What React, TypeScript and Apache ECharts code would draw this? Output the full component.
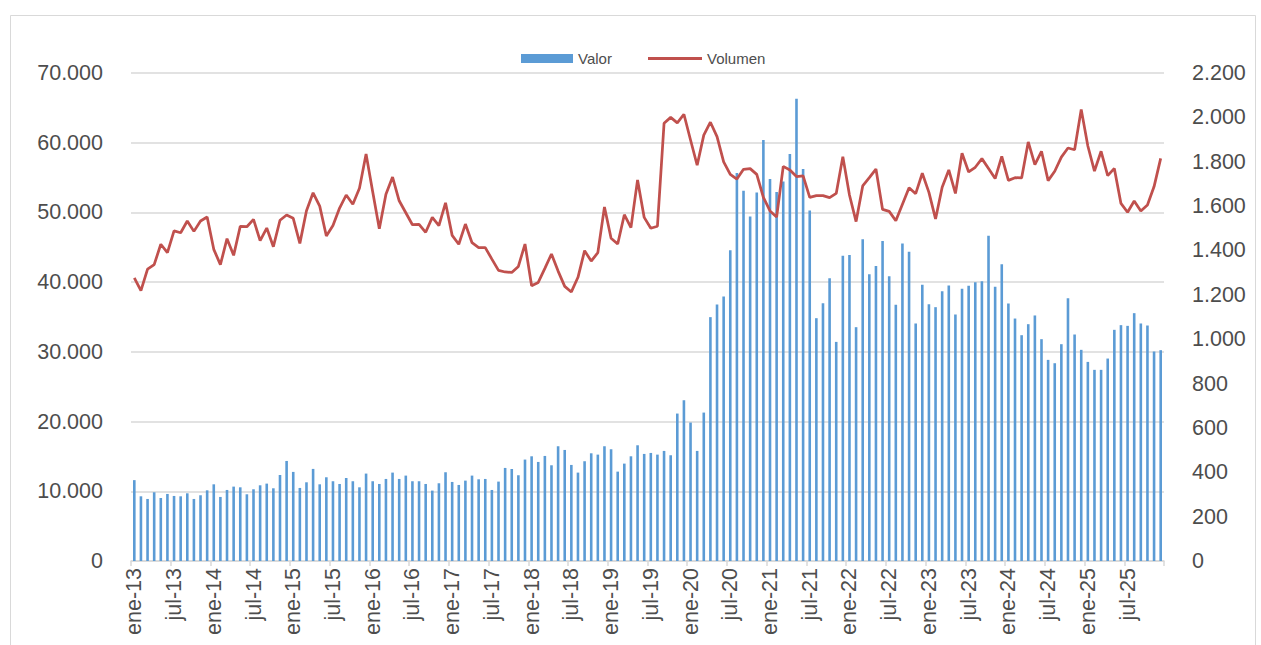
import React, { useEffect, useRef } from "react";
import * as echarts from "echarts";

const MONTHS = ["ene", "feb", "mar", "abr", "may", "jun", "jul", "ago", "sep", "oct", "nov", "dic"];
const YEARS = [13, 14, 15, 16, 17, 18, 19, 20, 21, 22, 23, 24, 25];
const categories: string[] = [];
YEARS.forEach((y) => MONTHS.forEach((m) => categories.push(`${m}-${y}`)));

const valor = [
  11600, 9280, 8900, 9860, 9040, 9620, 9330, 9280, 9710, 8900, 9430, 10140,
  11000, 9190, 10190, 10670, 10570, 9570, 10290, 10860, 11100, 10430, 12340, 14350,
  12780, 10480, 11290, 13210, 11000, 12010, 11440, 11050, 11910, 11440, 10570, 12540,
  11440, 11050, 11770, 12680, 11770, 12250, 11440, 11440, 11050, 10100, 11150, 12730,
  11340, 10910, 11530, 12250, 11720, 11770, 10190, 11390, 13350, 13210, 12300, 14550,
  15020, 14210, 15070, 13730, 16460, 15930, 13780, 12680, 14310, 15450, 15260, 16460,
  16030, 12820, 13970, 15020, 16600, 15360, 15500, 15260, 15790, 15170, 21150, 23060,
  19860, 15790, 21290, 34980, 36790, 37940, 44590, 55650, 53110, 49430, 52870, 60380,
  54780, 52920, 54450, 58370, 66320, 56220, 50290, 34830, 36990, 40570, 31430, 43780,
  43880, 33540, 46170, 41150, 42300, 45890, 40860, 36750, 45550, 44350, 34070, 39620,
  36840, 36410, 38710, 39520, 35360, 39040, 39470, 40000, 40140, 46650, 39330, 42580,
  36940, 34780, 32390, 33970, 35220, 31820, 28850, 28370, 31100, 37700, 32490, 30290,
  28560, 27420, 27420, 29040, 33160, 33830, 33730, 35550, 34070, 33780, 30050, 30240,
];

const volumen = [
  1276, 1219, 1316, 1336, 1428, 1390, 1488, 1480, 1533, 1486, 1533, 1551,
  1405, 1336, 1453, 1378, 1509, 1507, 1540, 1444, 1501, 1417, 1536, 1560,
  1545, 1432, 1579, 1660, 1600, 1465, 1512, 1591, 1650, 1608, 1680, 1835,
  1665, 1498, 1653, 1731, 1624, 1570, 1516, 1518, 1482, 1549, 1512, 1615,
  1468, 1428, 1519, 1435, 1413, 1413, 1361, 1310, 1303, 1301, 1328, 1429,
  1241, 1256, 1319, 1384, 1307, 1238, 1213, 1279, 1399, 1352, 1390, 1596,
  1455, 1429, 1561, 1503, 1718, 1549, 1500, 1509, 1973, 2000, 1975, 2014,
  1898, 1784, 1920, 1978, 1913, 1799, 1743, 1722, 1766, 1769, 1743, 1639,
  1578, 1551, 1779, 1763, 1733, 1736, 1639, 1647, 1647, 1638, 1657, 1823,
  1650, 1530, 1691, 1728, 1767, 1585, 1576, 1534, 1608, 1683, 1656, 1748,
  1662, 1542, 1685, 1763, 1657, 1838, 1754, 1775, 1814, 1769, 1724, 1824,
  1716, 1728, 1727, 1889, 1787, 1847, 1715, 1757, 1821, 1862, 1854, 2036,
  1871, 1758, 1847, 1737, 1770, 1612, 1572, 1623, 1578, 1605, 1688, 1815,
];

const FONT = "Liberation Sans";
const TXT = "#4d4d4d";
const GRID = "#D9D9D9";

const fmt = (v: number) => {
  const s = Math.round(v).toString();
  return s.replace(/\B(?=(\d{3})+(?!\d))/g, ".");
};

export default function App() {
  const ref = useRef<HTMLDivElement>(null);
  useEffect(() => {
    if (!ref.current) return;
    const chart = echarts.init(ref.current, undefined, { renderer: "svg" });
    chart.setOption({
      animation: false,
      backgroundColor: "#ffffff",
      textStyle: { fontFamily: FONT },
      graphic: [
        {
          type: "rect",
          shape: { x: 10.5, y: 15.5, width: 1245, height: 640 },
          style: { fill: "none", stroke: GRID, lineWidth: 1 },
          silent: true,
        },
      ],
      legend: [
        {
          data: ["Valor"],
          left: 516,
          top: 46,
          itemWidth: 52,
          itemHeight: 9,
          itemGap: 0,
          icon: "rect",
          textStyle: { color: TXT, fontSize: 15, fontFamily: FONT },
        },
        {
          data: ["Volumen"],
          left: 643,
          top: 46,
          itemWidth: 54,
          itemHeight: 3,
          icon: "rect",
          textStyle: { color: TXT, fontSize: 15, fontFamily: FONT },
        },
      ],
      grid: { left: 131, right: 97, top: 73, bottom: 84, containLabel: false },
      xAxis: {
        type: "category",
        data: categories,
        boundaryGap: true,
        axisLine: { lineStyle: { color: GRID, width: 1.5 } },
        axisTick: { show: true, interval: 5, length: 5, lineStyle: { color: GRID, width: 1.5 } },
        axisLabel: {
          interval: 5,
          rotate: 90,
          margin: 7,
          color: TXT,
          fontSize: 21.5,
          fontFamily: FONT,
        },
        splitLine: { show: false },
      },
      yAxis: [
        {
          type: "value",
          min: 0,
          max: 70000,
          interval: 10000,
          axisLine: { show: false },
          axisTick: { show: false },
          axisLabel: { color: TXT, fontSize: 21.5, fontFamily: FONT, margin: 28, formatter: fmt },
          splitLine: { lineStyle: { color: GRID, width: 1.5 } },
        },
        {
          type: "value",
          min: 0,
          max: 2200,
          interval: 200,
          axisLine: { show: false },
          axisTick: { show: false },
          axisLabel: { color: TXT, fontSize: 21.5, fontFamily: FONT, margin: 28, formatter: fmt },
          splitLine: { show: false },
        },
      ],
      series: [
        {
          name: "Valor",
          type: "bar",
          yAxisIndex: 0,
          data: valor,
          barWidth: 2.6,
          itemStyle: { color: "#5B9BD5" },
        },
        {
          name: "Volumen",
          type: "line",
          yAxisIndex: 1,
          data: volumen,
          showSymbol: false,
          symbol: "none",
          lineStyle: { color: "#C0504D", width: 2.75 },
          itemStyle: { color: "#C0504D" },
        },
      ],
    });
    return () => chart.dispose();
  }, []);
  return (
    <div
      ref={ref}
      style={{ position: "fixed", left: 0, top: 0, width: 1261, height: 645, background: "#fff" }}
    />
  );
}
